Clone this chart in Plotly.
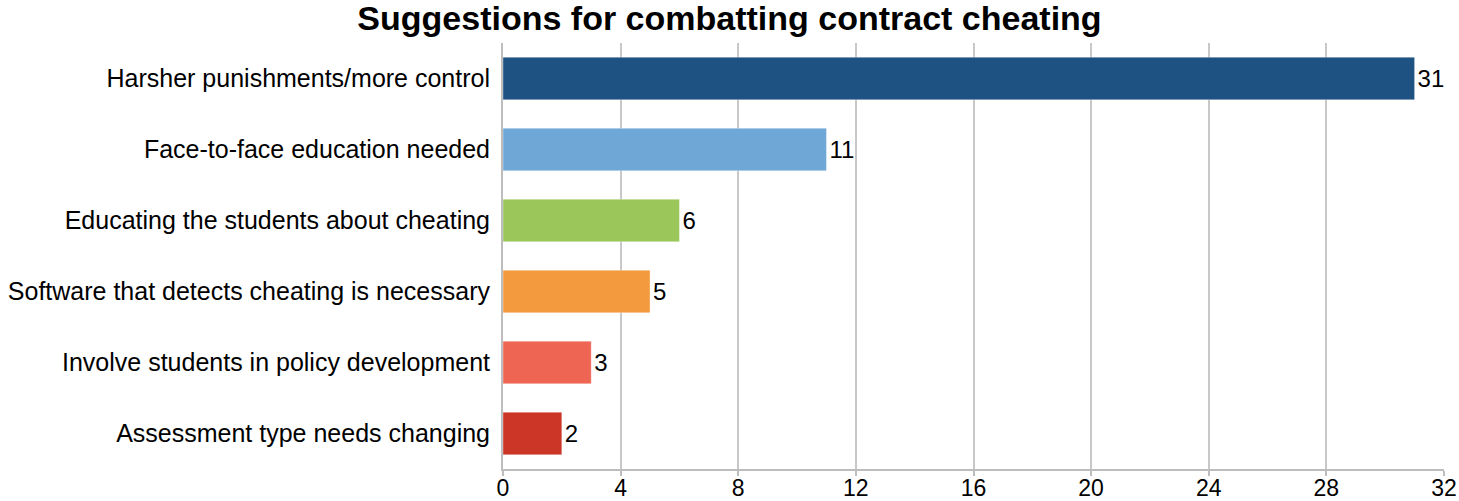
import plotly.graph_objects as go

categories = [
    "Harsher punishments/more control",
    "Face-to-face education needed",
    "Educating the students about cheating",
    "Software that detects cheating is necessary",
    "Involve students in policy development",
    "Assessment type needs changing",
]
values = [31, 11, 6, 5, 3, 2]
colors = ["#1d5283", "#6fa8d7", "#9ac65a", "#f39a3f", "#ee6553", "#cc3627"]
tick_vals = [0, 4, 8, 12, 16, 20, 24, 28, 32]

FONT = "Liberation Sans, Arial, Helvetica, sans-serif"

fig = go.Figure(
    go.Bar(
        x=values,
        y=categories,
        orientation="h",
        marker=dict(color=colors, line=dict(color="rgba(255,255,255,0.35)", width=1)),
        text=[str(v) for v in values],
        textposition="outside",
        textfont=dict(size=24, color="#000000", family=FONT),
        cliponaxis=False,
        width=0.6,
    )
)

fig.update_layout(
    width=1459,
    height=501,
    margin=dict(l=503, r=15, t=43, b=32),
    paper_bgcolor="white",
    plot_bgcolor="white",
    font=dict(family=FONT, size=25, color="#000000"),
    title=dict(
        text="<b>Suggestions for combatting contract cheating</b>",
        x=0.5,
        xanchor="center",
        y=1 - 18 / 501,
        yanchor="middle",
        font=dict(size=34, color="#000000"),
    ),
    showlegend=False,
    xaxis=dict(
        range=[0, 32],
        tickvals=tick_vals,
        showgrid=True,
        gridcolor="#c8c8c8",
        gridwidth=2,
        showline=True,
        linecolor="#bdbdbd",
        linewidth=2,
        ticks="outside",
        ticklen=5,
        tickcolor="#bdbdbd",
        tickwidth=2,
        ticklabelstandoff=-8,
        tickfont=dict(size=23),
        zeroline=False,
        automargin=False,
    ),
    yaxis=dict(
        categoryorder="array",
        categoryarray=categories[::-1],
        range=[-0.5, 5.5],
        showline=True,
        linecolor="#bdbdbd",
        linewidth=2,
        ticks="",
        ticklabelstandoff=6,
        tickfont=dict(size=25),
        showgrid=False,
        automargin=False,
    ),
)

fig.write_html(
    "out.html",
    config={"displayModeBar": False},
    post_script="document.body.style.margin='0';document.body.style.overflow='hidden';",
)
